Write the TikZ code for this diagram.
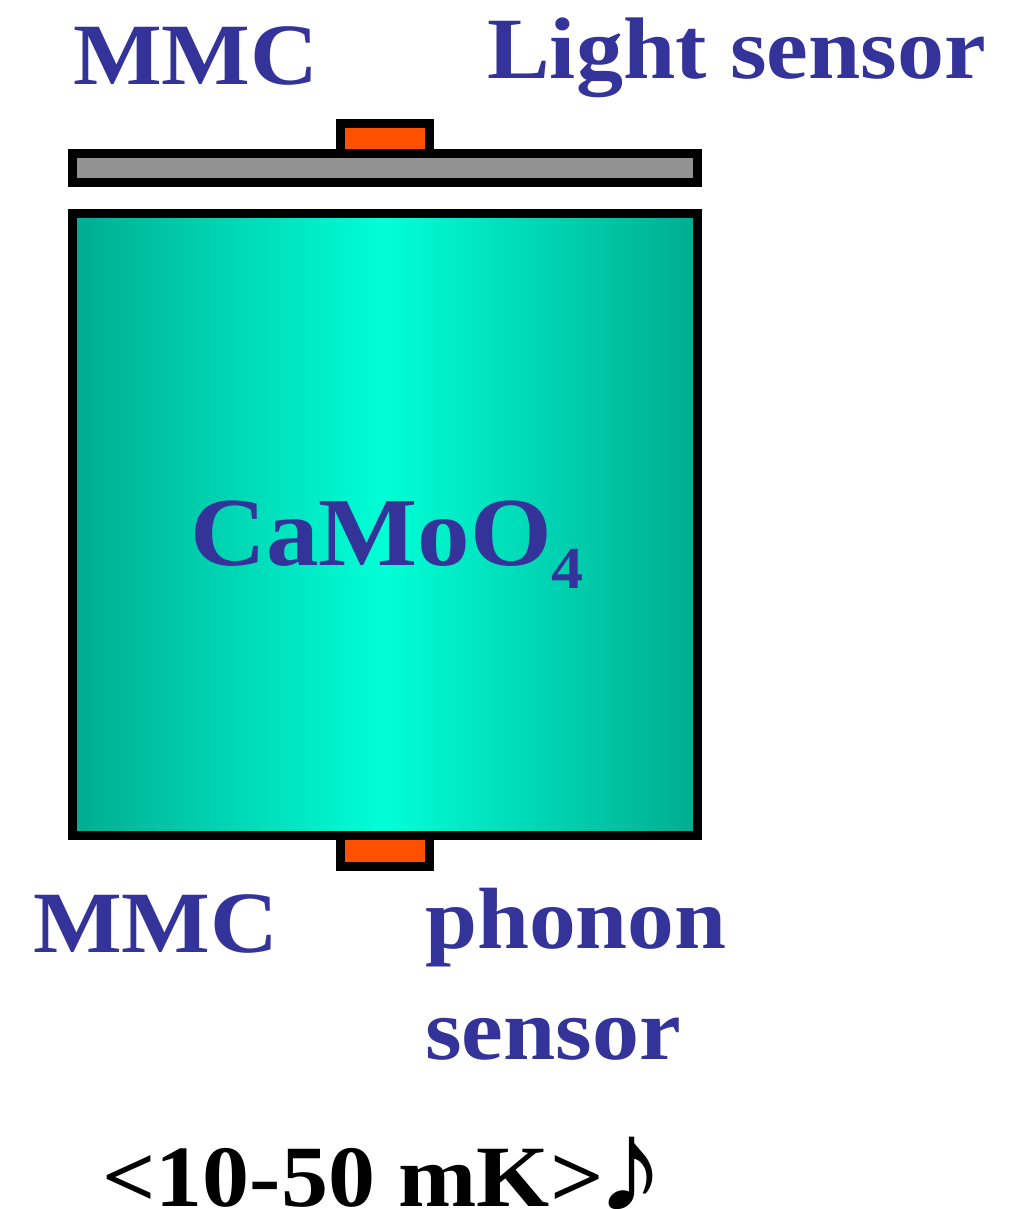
\documentclass[tikz,border=0pt]{standalone}
\usepackage{fontspec}
\setmainfont{Liberation Serif}
\definecolor{lbl}{RGB}{51,51,153}
\definecolor{teale}{RGB}{0,172,145}
\definecolor{tealc}{RGB}{0,255,214}
\definecolor{sens}{RGB}{255,80,0}
\definecolor{bar}{RGB}{146,146,146}
\tikzset{
 px/.style={x=1pt,y=-1pt},
 lab/.style={font=\bfseries\fontsize{#1}{#1}\selectfont,text=lbl,inner sep=0pt,anchor=base west,yscale=0.93,transform shape},
 boxline/.style={draw=black,line width=9pt,line join=miter}
}
\begin{document}
\begin{tikzpicture}[px]
\useasboundingbox (0,0) rectangle (1018,1209);
\path[boxline,left color=teale,right color=teale,middle color=tealc] (72,213) rectangle (697,835);
\path[boxline,fill=sens] (340,124) rectangle (429,154);
\path[boxline,fill=bar] (72,154) rectangle (697,183);
\path[boxline,fill=sens] (340,835) rectangle (429,866);
\node[lab=94] (mmca) at (73,85) {MMC};
\node[lab=94] (light) at (487,79) {Light sensor};
\node[lab=105] (cmo) at (190,565) {CaMoO\raisebox{-0.24em}{\fontsize{64}{64}\selectfont 4}};
\node[lab=94] (mmcb) at (33,952) {MMC};
\node[lab=93.5] (ph) at (425,948) {phonon};
\node[lab=94] (sn) at (425,1059) {sensor};
\node[lab=94,text=black] (temp) at (102,1206) {<10-50 mK>};
\node[lab=142,text=black] (note) at ([xshift=-8pt,yshift=-5pt]temp.base east) {♪};
\end{tikzpicture}
\end{document}
